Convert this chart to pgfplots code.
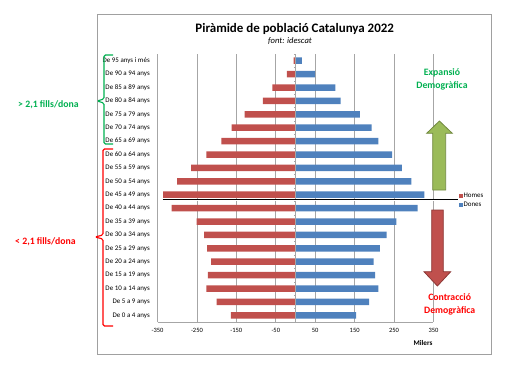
\documentclass[border=0pt]{standalone}
\usepackage{pgfplots}
\pgfplotsset{compat=1.18}
\usepackage{pgfplotstable}
\usepackage{fontspec}
\setmainfont{Carlito}
\definecolor{homes}{HTML}{C0504D}
\definecolor{dones}{HTML}{4F81BD}
\definecolor{xgreen}{HTML}{00B050}
\definecolor{xred}{HTML}{FF0000}
\definecolor{agreen}{HTML}{9BBB59}
\definecolor{agreenD}{HTML}{71893F}
\definecolor{aredD}{HTML}{8C3836}
\definecolor{gridc}{HTML}{A6A6A6}
\definecolor{framec}{HTML}{A0A0A0}

\pgfplotstableread{
idx homes dones
0 -164 154
1 -200 187
2 -226 210
3 -222 202
4 -214 198
5 -224 214
6 -232 231
7 -251 256
8 -314 310
9 -336 327
10 -300 294
11 -265 270
12 -226 245
13 -188 210
14 -162 193
15 -129 163
16 -83 114.5
17 -58.5 101
18 -22 50
19 -5 16
}\pyr

\begin{document}
\begin{tikzpicture}
\path[use as bounding box] (0,0) rectangle (517bp,-370bp);
\draw[framec, line width=0.8bp] (97bp,-14bp) rectangle (491bp,-354bp);
\begin{axis}[
  at={(157.5bp,-322bp)}, anchor=south west,
  scale only axis, width=276bp, height=268bp,
  xmin=-350, xmax=350, ymin=-0.5, ymax=19.5,
  xbar, bar width=6.5bp, bar shift=0pt,
  xtick={-350,-250,-150,-50,50,150,250,350},
  xmajorgrids, grid style={gridc, line width=0.6bp},
  ytick={0,...,19},
  yticklabels={De 0 a 4 anys, De 5 a 9 anys, De 10 a 14 anys, De 15 a 19 anys, De 20 a 24 anys, De 25 a 29 anys, De 30 a 34 anys, De 35 a 39 anys, De 40 a 44 anys, De 45 a 49 anys, De 50 a 54 anys, De 55 a 59 anys, De 60 a 64 anys, De 65 a 69 anys, De 70 a 74 anys, De 75 a 79 anys, De 80 a 84 anys, De 85 a 89 anys, De 90 a 94 anys, De 95 anys i més},
  axis x line*=bottom, axis y line*=left,
  y axis line style={draw=none},
  x axis line style={gridc, line width=0.8bp, -},
  xtick style={draw=none}, ytick style={draw=none},
  /pgf/number format/assume math mode=true,
  xticklabel style={font=\fontsize{6.5}{7}\selectfont, yshift=-2.5bp},
  yticklabel style={font=\fontsize{7}{7}\selectfont},
  legend style={at={(1.08,0.453)}, anchor=west, draw=none, fill=none,
    font=\fontsize{7}{8}\selectfont, row sep=2bp, nodes={inner sep=0.8bp}},
  legend cell align=left,
  legend image code/.code={\fill[#1,draw=none] (0bp,-2bp) rectangle (4bp,2bp);},
  clip=false,
]
\addplot[fill=homes, draw=none] table[x=homes, y=idx] {\pyr};
\addplot[fill=dones, draw=none] table[x=dones, y=idx] {\pyr};
\legend{Homes, Dones}
\draw[gridc, line width=0.8bp] (axis cs:0,-0.5) -- (axis cs:0,19.5);
\pgfplotsinvokeforeach{-0.5,0.5,...,19.5}{\draw[gridc, line width=0.5bp] (axis cs:0,#1) -- (axis cs:-5,#1);}
\end{axis}
\begin{scope}[x=1bp, y=-1bp]
% title
\node[anchor=base, font=\fontsize{13}{15}\selectfont\bfseries] at (294.7,32.7) {Piràmide de població Catalunya 2022};
\node[anchor=base, font=\fontsize{8.6}{9}\selectfont\itshape] at (290,43.3) {font: idescat};
\node[font=\fontsize{7.2}{8}\selectfont\bfseries] at (423,342.7) {Milers};
% separating line
\draw[black, line width=0.5bp, double=white, double distance=0.7bp] (162.7,200.3) -- (457.7,200.3);
% arrows
\filldraw[fill=agreen, draw=agreenD, line width=0.8bp] (432.7,190) -- (432.7,133.3) -- (426.7,133.3) -- (439.4,121) -- (452.3,133.3) -- (445.7,133.3) -- (445.7,190) -- cycle;
\filldraw[fill=homes, draw=aredD, line width=0.8bp] (431.7,210) -- (431.7,271.7) -- (424,271.7) -- (437.4,286) -- (450.7,271.7) -- (443.3,271.7) -- (443.3,210) -- cycle;
\node[align=center, text=xgreen, font=\fontsize{9.8}{12.4}\selectfont\bfseries] at (442,79.5) {Expansió\\Demogràfica};
\node[align=center, text=xred, font=\fontsize{9.8}{12.7}\selectfont\bfseries] at (449.7,304.7) {Contracció\\Demogràfica};
% left annotations
\node[text=xgreen, font=\fontsize{9.8}{11}\selectfont\bfseries] at (48.5,105) {> 2,1 fills/dona};
\node[text=xred, font=\fontsize{9.8}{11}\selectfont\bfseries] at (45.5,241.7) {< 2,1 fills/dona};
% braces
\draw[xgreen, line width=1.1bp, rounded corners=1.5bp] (113,55) -- (104,55) -- (104,99) -- (97,101) -- (104,103) -- (104,144) -- (113,144);
\draw[xred, line width=1.1bp, rounded corners=1.5bp] (113,149) -- (103,149) -- (103,235) -- (95,237) -- (103,239) -- (103,326) -- (113,326);
\end{scope}
\end{tikzpicture}
\end{document}
